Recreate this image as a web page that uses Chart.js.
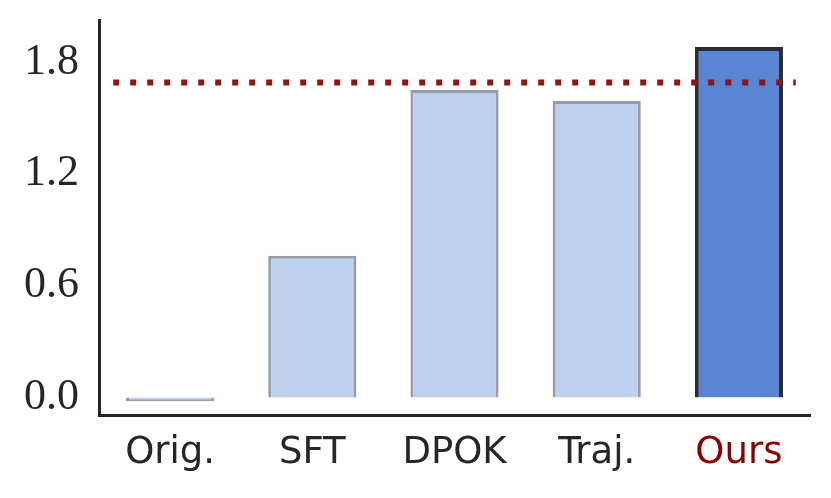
<!DOCTYPE html>
<html>
<head>
<meta charset="utf-8">
<script src="https://cdn.jsdelivr.net/npm/chart.js@4"></script>
<style>
  html, body { margin: 0; padding: 0; background: #fff; }
  #wrap { width: 831px; height: 498px; }
</style>
</head>
<body>
<div id="wrap"><canvas id="barChart"></canvas></div>
<script>
const categories = ['Orig.', 'SFT', 'DPOK', 'Traj.', 'Ours'];
const scores = [-0.02, 0.76, 1.65, 1.59, 1.88];
const referenceLevel = [1.69];
const yTicks = [0.0, 0.6, 1.2, 1.8];

const lightFill = '#bdd0ee';
const lightEdge = 'rgba(80,90,110,0.6)';
const oursFill = '#5a84d4';
const oursEdge = '#2c2d33';

// dotted reference line drawn across the axes
const refLine = {
    id: 'refLine',
    afterDatasetsDraw(chart) {
        const {ctx, chartArea, scales} = chart;
        const y = scales.y.getPixelForValue(referenceLevel[0]);
        const w = chartArea.right - chartArea.left;
        ctx.save();
        ctx.strokeStyle = '#8e1616';
        ctx.lineWidth = 6;
        ctx.setLineDash([6, 11]);
        ctx.beginPath();
        ctx.moveTo(chartArea.left + w * 0.02, y);
        ctx.lineTo(chartArea.left + w * 0.98, y);
        ctx.stroke();
        ctx.restore();
    }
};

const config = {
    type: 'bar',
    data: {
        labels: categories,
        datasets: [{
            data: scores,
            backgroundColor: categories.map((c, i) => i === categories.length - 1 ? oursFill : lightFill),
            borderColor: categories.map((c, i) => i === categories.length - 1 ? oursEdge : lightEdge),
            borderWidth: categories.map((c, i) => i === categories.length - 1 ? 4 : 3),
            barPercentage: 0.62,
            categoryPercentage: 1.0
        }]
    },
    options: {
        responsive: true,
        maintainAspectRatio: false,
        animation: false,
        layout: { padding: { left: 0, right: 21, top: 20, bottom: 0 } },
        plugins: {
            legend: { display: false },
            tooltip: { enabled: false }
        },
        scales: {
            x: {
                grid: { display: false, drawTicks: false },
                border: { display: true, color: '#262626', width: 3 },
                ticks: {
                    padding: 16,
                    font: { family: 'DejaVu Sans', size: 37 },
                    color: ctx => ctx.index === categories.length - 1 ? '#8b0000' : '#262626'
                },
                afterFit: scale => {
                    scale.height = 83;
                    scale.paddingLeft = 0;
                    scale.paddingRight = 0;
                }
            },
            y: {
                min: -0.094,
                max: 2.025,
                grid: { display: false, drawTicks: false },
                border: { display: true, color: '#262626', width: 3 },
                afterBuildTicks: scale => { scale.ticks = yTicks.map(v => ({ value: v })); },
                ticks: {
                    padding: 20,
                    font: { family: 'Liberation Serif', size: 44 },
                    color: '#262626',
                    callback: v => v.toFixed(1)
                },
                afterFit: scale => {
                    scale.width = 99;
                    scale.paddingTop = 0;
                    scale.paddingBottom = 0;
                }
            }
        }
    },
    plugins: [refLine]
};

const barChart = new Chart(document.getElementById('barChart'), config);
</script>
</body>
</html>
